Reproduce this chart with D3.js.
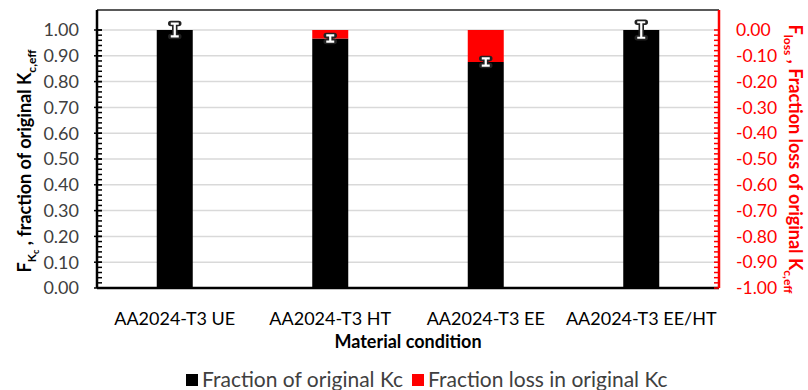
<!DOCTYPE html>
<html>
<head>
<meta charset="utf-8">
<script src="https://cdn.jsdelivr.net/npm/d3@7"></script>
<style>
	body { margin: 0; background: #fff; }
	svg { display: block; font-family: Lato, "Open Sans", sans-serif; }
</style>
</head>
<body>
<svg id="svg"></svg>
<script>

// chart values
const categories = ["AA2024-T3 UE", "AA2024-T3 HT", "AA2024-T3 EE", "AA2024-T3 EE/HT"];
const fraction = [1.0, 0.967, 0.876, 1.0];
const fractionErr = [0.025, 0.012, 0.014, 0.03];
const loss = [0, -0.033, -0.124, 0];
const leftTicks = [0, 0.1, 0.2, 0.3, 0.4, 0.5, 0.6, 0.7, 0.8, 0.9, 1.0];
const rightTicks = [0, -0.1, -0.2, -0.3, -0.4, -0.5, -0.6, -0.7, -0.8, -0.9, -1.0];
const legendNames = ["Fraction of original Kc", "Fraction loss in original Kc"];

let width = 808,
	height = 390,
	m = [10, 89, 102, 97],   // top, right, bottom, left
	plotTop = 30,
	x0 = m[3],
	x1 = width - m[1],
	y0 = height - m[2];

const svg = d3.select("svg#svg")
	.attr("width", width)
	.attr("height", height);

const xScale = d3.scaleBand()
	.domain(categories)
	.range([x0, x1]);

const barW = 36;

const yScale = d3.scaleLinear()
	.domain([0, 1])
	.range([y0, plotTop]);

const yRight = d3.scaleLinear()
	.domain([-1, 0])
	.range([y0, plotTop]);

// gridlines
svg.append("g")
	.selectAll("line")
	.data(leftTicks.slice(1))
	.enter()
	.append("line")
	.attr("x1", x0)
	.attr("x2", x1)
	.attr("y1", d => yScale(d))
	.attr("y2", d => yScale(d))
	.attr("stroke", "#d9d9d9")
	.attr("stroke-width", 1.5);

// black bars
const cx = i => xScale(categories[i]) + xScale.bandwidth() / 2;

svg.append("g")
	.selectAll("rect")
	.data(fraction)
	.enter()
	.append("rect")
	.attr("x", (d, i) => cx(i) - barW / 2)
	.attr("width", barW)
	.attr("y", d => yScale(d))
	.attr("height", d => yScale(0) - yScale(d))
	.attr("fill", "#000");

// red loss bars on the right axis
svg.append("g")
	.selectAll("rect")
	.data(loss)
	.enter()
	.append("rect")
	.attr("x", (d, i) => cx(i) - barW / 2)
	.attr("width", barW)
	.attr("y", yRight(0))
	.attr("height", d => yRight(d) - yRight(0))
	.attr("fill", "#ff0000");

// error bars, white with dark outline
const errPath = (d, i) => {
	const c = cx(i), hi = yScale(d + fractionErr[i]), lo = yScale(d - fractionErr[i]);
	return `M${c - 4},${hi}H${c + 4}M${c},${hi}V${lo}M${c - 4},${lo}H${c + 4}`;
};
const eb = svg.append("g");
eb.selectAll("path.out")
	.data(fraction)
	.enter()
	.append("path")
	.attr("d", errPath)
	.attr("fill", "none")
	.attr("stroke", "#222")
	.attr("stroke-width", 5.5)
	.attr("stroke-linecap", "round")
	.attr("stroke-linejoin", "round");
eb.selectAll("path.in")
	.data(fraction)
	.enter()
	.append("path")
	.attr("d", errPath)
	.attr("fill", "none")
	.attr("stroke", "#fff")
	.attr("stroke-width", 2.2);

// top border
svg.append("line")
	.attr("x1", x0).attr("x2", x1)
	.attr("y1", m[0]).attr("y2", m[0])
	.attr("stroke", "#222").attr("stroke-width", 1.5);

// bottom axis
svg.append("line")
	.attr("x1", x0).attr("x2", x1)
	.attr("y1", y0).attr("y2", y0)
	.attr("stroke", "#000").attr("stroke-width", 2.5);

// left axis with minor ticks
const minor = d3.range(0, 51).map(k => k / 50);
const left = svg.append("g");
left.append("line")
	.attr("x1", x0).attr("x2", x0)
	.attr("y1", m[0]).attr("y2", y0)
	.attr("stroke", "#000").attr("stroke-width", 2.5);
left.selectAll("line.minor")
	.data(minor)
	.enter()
	.append("line")
	.attr("x1", x0).attr("x2", x0 + 5)
	.attr("y1", d => yScale(d)).attr("y2", d => yScale(d))
	.attr("stroke", "#000").attr("stroke-width", 1.5);
left.selectAll("line.major")
	.data(leftTicks)
	.enter()
	.append("line")
	.attr("x1", x0 - 3).attr("x2", x0 + 5)
	.attr("y1", d => yScale(d)).attr("y2", d => yScale(d))
	.attr("stroke", "#000").attr("stroke-width", 1.5);
left.selectAll("text")
	.data(leftTicks)
	.enter()
	.append("text")
	.attr("x", 79)
	.attr("y", d => yScale(d))
	.attr("dy", "0.35em")
	.attr("text-anchor", "end")
	.attr("font-size", 18)
	.attr("fill", "#404040")
	.text(d => d3.format(".2f")(d));

// right axis
const right = svg.append("g");
right.append("line")
	.attr("x1", x1).attr("x2", x1)
	.attr("y1", m[0]).attr("y2", y0)
	.attr("stroke", "#ff0000").attr("stroke-width", 2.5);
right.selectAll("line.minor")
	.data(minor.map(d => -d))
	.enter()
	.append("line")
	.attr("x1", x1 - 5).attr("x2", x1)
	.attr("y1", d => yRight(d)).attr("y2", d => yRight(d))
	.attr("stroke", "#ff0000").attr("stroke-width", 1.5);
right.selectAll("text")
	.data(rightTicks)
	.enter()
	.append("text")
	.attr("x", 736)
	.attr("y", d => yRight(d))
	.attr("dy", "0.35em")
	.attr("font-size", 17.5)
	.attr("fill", "#ff0000")
	.text(d => d === 0 ? "0.00" : d3.format(".2f")(d).replace("−", "-"));

// category labels
svg.append("g")
	.selectAll("text")
	.data(categories)
	.enter()
	.append("text")
	.attr("x", (d, i) => cx(i))
	.attr("y", y0 + 37)
	.attr("text-anchor", "middle")
	.attr("font-size", 18)
	.attr("fill", "#000")
	.text(d => d);

svg.append("text")
	.attr("x", (x0 + x1) / 2)
	.attr("y", y0 + 60)
	.attr("text-anchor", "middle")
	.attr("font-size", 18)
	.attr("font-weight", "bold")
	.text("Material condition");

// left axis title
const lt = svg.append("text")
	.attr("transform", `translate(31,${(plotTop + y0) / 2 + 2}) rotate(-90)`)
	.attr("text-anchor", "middle")
	.attr("font-size", 18)
	.attr("font-weight", "bold")
	.attr("fill", "#000");
lt.append("tspan").text("F");
lt.append("tspan").attr("font-size", 12).attr("dy", 5).text("K");
lt.append("tspan").attr("font-size", 9).attr("dy", 3).text("c");
lt.append("tspan").attr("dy", -8).text(" , fraction of original K");
lt.append("tspan").attr("font-size", 12).attr("dy", 5).text("c,eff");

// right axis title
const rt = svg.append("text")
	.attr("transform", `translate(789,${(plotTop + y0) / 2}) rotate(90)`)
	.attr("text-anchor", "middle")
	.attr("font-size", 18)
	.attr("font-weight", "bold")
	.attr("fill", "#ff0000");
rt.append("tspan").text("F");
rt.append("tspan").attr("font-size", 12).attr("dy", 5).text("loss");
rt.append("tspan").attr("dy", -5).text(" , Fraction loss of original K");
rt.append("tspan").attr("font-size", 12).attr("dy", 5).text("c,eff");

// legend
const legendColors = ["#000", "#ff0000"];
const lg = svg.append("g").attr("transform", "translate(0,380)");
const lx = [186, 412];
legendNames.forEach((name, i) => {
	lg.append("rect")
		.attr("x", lx[i]).attr("y", -6)
		.attr("width", 12).attr("height", 12)
		.attr("fill", legendColors[i]);
	lg.append("text")
		.attr("x", lx[i] + 16)
		.attr("y", 0)
		.attr("dy", "0.35em")
		.attr("font-size", 21)
		.attr("fill", "#404040")
		.text(name);
});

</script>
</body>
</html>
